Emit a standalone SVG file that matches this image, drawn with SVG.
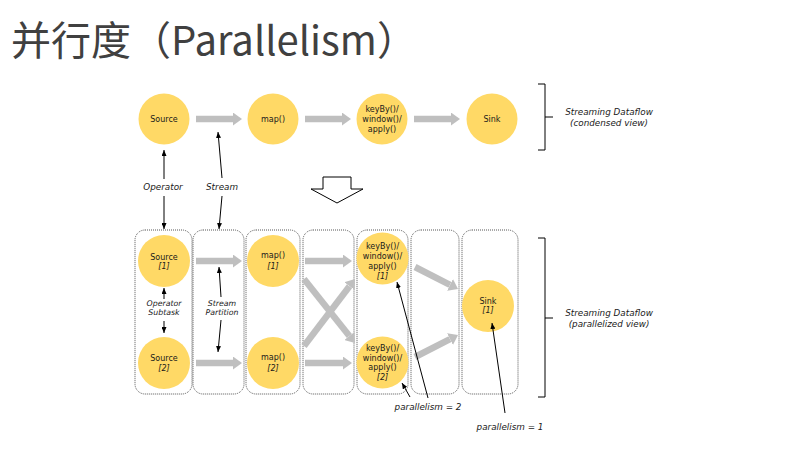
<svg xmlns="http://www.w3.org/2000/svg" width="793" height="453" viewBox="0 0 793 453">
<style>
.title{font-family:"Noto Sans CJK SC","Noto Sans",sans-serif;font-size:40px;fill:#404040}
.op{fill:#FFD966}
.t{font-family:"DejaVu Sans",Verdana,sans-serif;font-size:8px;fill:#1a1a1a;text-anchor:middle}
.i{font-style:italic}
.lb{font-size:8.8px}
.sm{font-size:7.8px}
.box{fill:none;stroke:#555;stroke-width:1;stroke-dasharray:1 1}
.ga{stroke:#BFBFBF;stroke-width:6.5;fill:none;marker-end:url(#gh)}
.ba{stroke:#000;stroke-width:1;fill:none}
.bm{marker-end:url(#bh)}
</style>
<defs>
<marker id="gh" markerUnits="userSpaceOnUse" viewBox="0 0 9 13" refX="0" refY="6.5" markerWidth="9" markerHeight="13" orient="auto">
<path d="M0,0 L9,6.5 L0,13 Z" fill="#BFBFBF"/>
</marker>
<marker id="bh" markerUnits="userSpaceOnUse" viewBox="0 0 6 5" refX="6" refY="2.5" markerWidth="6" markerHeight="5" orient="auto">
<path d="M0,0 L6,2.5 L0,5 Z" fill="#000"/>
</marker>
</defs>

<text class="title" x="11" y="55">并行度（Parallelism）</text>

<!-- condensed view -->
<g id="src"><circle class="op" cx="164" cy="119" r="25.5"/><text class="t" x="164" y="122">Source</text></g>
<g id="map"><circle class="op" cx="273" cy="119" r="25.5"/><text class="t" x="273" y="122">map()</text></g>
<g id="kb"><circle class="op" cx="382" cy="119" r="25.5"/><text class="t" x="382" y="112">keyBy()/</text><text class="t" x="382" y="122">window()/</text><text class="t" x="382" y="132">apply()</text></g>
<g id="sink"><circle class="op" cx="492" cy="119" r="25.5"/><text class="t" x="492" y="122">Sink</text></g>

<g id="brace-top"><path class="ba" d="M538,84 H545 V150 H538 M545,117 H553"/><text class="t i lb" x="609" y="115">Streaming Dataflow</text><text class="t i lb" x="609" y="126">(condensed view)</text></g>

<g id="down-arrow"><path d="M323,177 H351 V189 H363 L337,203 L311,189 H323 Z" fill="#fff" stroke="#000" stroke-width="1"/></g>

<!-- parallel boxes -->
<g id="col1"><rect class="box" x="135" y="230" width="57" height="164" rx="10"/></g>
<g id="col2"><rect class="box" x="193" y="230" width="51" height="164" rx="10"/></g>
<g id="col3"><rect class="box" x="246" y="230" width="54" height="164" rx="10"/></g>
<g id="col4"><rect class="box" x="303" y="230" width="51" height="164" rx="10"/></g>
<g id="col5"><rect class="box" x="357" y="230" width="51" height="164" rx="10"/></g>
<g id="col6"><rect class="box" x="411" y="230" width="48" height="164" rx="10"/></g>
<g id="col7"><rect class="box" x="462" y="230" width="56" height="164" rx="10"/></g>

<g id="src1"><circle class="op" cx="164" cy="261" r="26"/><text class="t" x="164" y="260">Source</text><text class="t i" x="164" y="269">[1]</text></g>
<g id="src2"><circle class="op" cx="164" cy="363" r="26"/><text class="t" x="164" y="361">Source</text><text class="t i" x="164" y="371">[2]</text></g>
<g id="map1"><circle class="op" cx="273" cy="261" r="26"/><text class="t" x="273" y="258">map()</text><text class="t i" x="273" y="269">[1]</text></g>
<g id="map2"><circle class="op" cx="273" cy="363" r="26"/><text class="t" x="273" y="360">map()</text><text class="t i" x="273" y="371">[2]</text></g>
<g id="kb1"><circle class="op" cx="382.5" cy="258.5" r="26"/><text class="t" x="382.5" y="249">keyBy()/</text><text class="t" x="382.5" y="259">window()/</text><text class="t" x="382.5" y="269">apply()</text><text class="t i" x="382.5" y="279">[1]</text></g>
<g id="kb2"><circle class="op" cx="382.5" cy="362.5" r="26"/><text class="t" x="382.5" y="351">keyBy()/</text><text class="t" x="382.5" y="361">window()/</text><text class="t" x="382.5" y="370">apply()</text><text class="t i" x="382.5" y="380">[2]</text></g>
<g id="sink1"><circle class="op" cx="488" cy="306" r="26"/><text class="t" x="488" y="304">Sink</text><text class="t i" x="488" y="313">[1]</text></g>

<g id="brace-bottom"><path class="ba" d="M538,238 H545 V397 H538 M545,318 H553"/><text class="t i lb" x="609" y="316">Streaming Dataflow</text><text class="t i lb" x="609" y="327">(parallelized view)</text></g>

<g id="connectors">
<line class="ga" x1="196" y1="119" x2="233" y2="119"/>
<line class="ga" x1="305" y1="119" x2="342" y2="119"/>
<line class="ga" x1="414" y1="119" x2="451" y2="119"/>
<line class="ga" x1="196" y1="261" x2="233" y2="261"/>
<line class="ga" x1="196" y1="363" x2="233" y2="363"/>
<line class="ga" x1="305" y1="261" x2="343" y2="261"/>
<line class="ga" x1="305" y1="363" x2="343" y2="363"/>
<line class="ga" x1="304" y1="279" x2="349.4" y2="336"/>
<line class="ga" x1="304" y1="346" x2="349.5" y2="286.2"/>
<line class="ga" x1="415" y1="267" x2="450" y2="284.9"/>
<line class="ga" x1="415" y1="357" x2="450" y2="339.1"/>
</g>

<g id="annotations">
<line class="ba bm" x1="164" y1="179" x2="164" y2="150"/>
<line class="ba bm" x1="164" y1="196" x2="164" y2="229"/>
<text class="t i lb" x="163" y="190">Operator</text>
<line class="ba bm" x1="222" y1="178" x2="218" y2="132"/>
<line class="ba bm" x1="222" y1="196" x2="219" y2="229"/>
<text class="t i lb" x="222" y="190">Stream</text>

<line class="ba bm" x1="164" y1="299" x2="164" y2="288"/>
<line class="ba bm" x1="164" y1="321" x2="164" y2="333"/>
<text class="t i sm" x="164" y="306">Operator</text>
<text class="t i sm" x="164" y="315">Subtask</text>
<line class="ba bm" x1="221" y1="297" x2="219" y2="267"/>
<line class="ba bm" x1="221" y1="320" x2="218" y2="352"/>
<text class="t i sm" x="222" y="306">Stream</text>
<text class="t i sm" x="222" y="315">Partition</text>

<line class="ba bm" x1="428" y1="398" x2="397" y2="282"/>
<line class="ba bm" x1="410" y1="397" x2="402" y2="383"/>
<text class="t i lb" x="428" y="410">parallelism = 2</text>
<line class="ba bm" x1="505" y1="413" x2="492" y2="323"/>
<text class="t i lb" x="510" y="430">parallelism = 1</text>
</g>
</svg>
